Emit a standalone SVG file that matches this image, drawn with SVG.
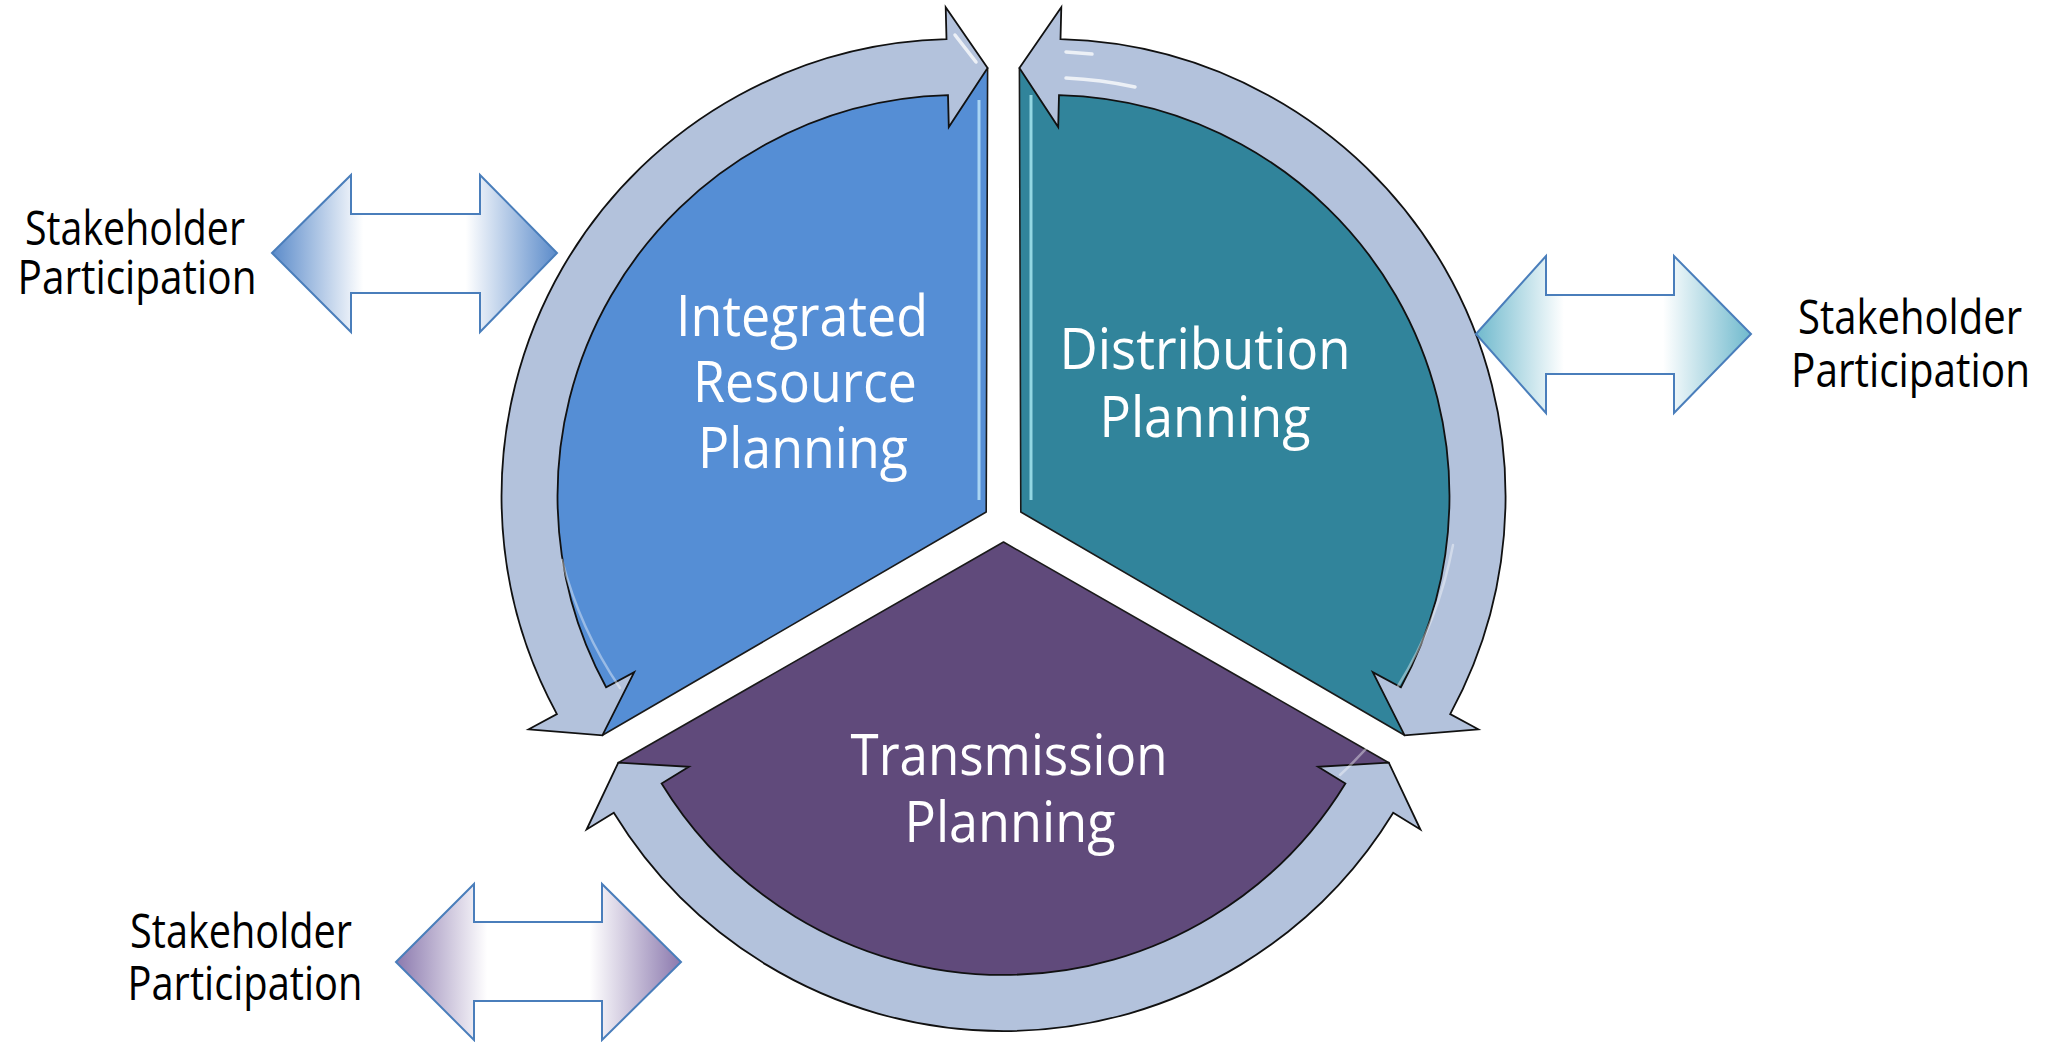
<svg xmlns="http://www.w3.org/2000/svg" width="2056" height="1042" viewBox="0 0 2056 1042">
<defs>
<style>
.sector{stroke:#1a1a1a;stroke-width:1.6;stroke-linejoin:round}
.band{fill:#B3C2DC;stroke:#111;stroke-width:1.8;stroke-linejoin:miter}
.gloss{fill:none;stroke:#ffffff;stroke-opacity:0.4;stroke-width:2.5;stroke-linecap:round}
.shine{fill:none;stroke:#ffffff;stroke-opacity:0.75;stroke-width:3.5;stroke-linecap:round}
.dbl{stroke:#4A7EBB;stroke-width:2;stroke-linejoin:miter}
.lbl{font-family:'Open Sans','Liberation Sans',sans-serif;font-size:47px;fill:#000;text-anchor:middle}
.lblr{font-family:'Open Sans','Liberation Sans',sans-serif;font-size:47px;fill:#000;text-anchor:end}
.inner{font-family:'Open Sans','Liberation Sans',sans-serif;font-size:56px;fill:#fff;text-anchor:middle}
</style>
<linearGradient id="gBlue" x1="0" y1="0" x2="1" y2="0">
<stop offset="0" stop-color="#5B8BCA"/><stop offset="0.32" stop-color="#FFFFFF"/><stop offset="0.68" stop-color="#FFFFFF"/><stop offset="1" stop-color="#5B8BCA"/>
</linearGradient>
<linearGradient id="gTeal" x1="0" y1="0" x2="1" y2="0">
<stop offset="0" stop-color="#6FB9CD"/><stop offset="0.32" stop-color="#FFFFFF"/><stop offset="0.68" stop-color="#FFFFFF"/><stop offset="1" stop-color="#6FB9CD"/>
</linearGradient>
<linearGradient id="gPurp" x1="0" y1="0" x2="1" y2="0">
<stop offset="0" stop-color="#8B79AE"/><stop offset="0.32" stop-color="#FFFFFF"/><stop offset="0.68" stop-color="#FFFFFF"/><stop offset="1" stop-color="#8B79AE"/>
</linearGradient>
</defs>
<rect width="2056" height="1042" fill="#ffffff"/>

<g id="node-irp">
<path class="sector" fill="#558ED5" d="M 986.2 512 L 987.6 68 A 429 429 0 0 0 602.4 735.3 Z"/>
<line x1="979" y1="100" x2="979" y2="500" stroke="#B9E2F8" stroke-width="3" stroke-opacity="0.85"/>
<text class="inner" x="802" y="336" textLength="252" lengthAdjust="spacingAndGlyphs">Integrated</text>
<text class="inner" x="805" y="402" textLength="224" lengthAdjust="spacingAndGlyphs">Resource</text>
<text class="inner" x="803" y="468" textLength="210" lengthAdjust="spacingAndGlyphs">Planning</text>
</g>

<g id="node-dist">
<path class="sector" fill="#31849B" d="M 1020.8 512 L 1019.4 68 A 429 429 0 0 1 1404.6 735.3 Z"/>
<line x1="1031" y1="95" x2="1031" y2="500" stroke="#A6E6F0" stroke-width="3" stroke-opacity="0.85"/>
<text class="inner" x="1205" y="369" textLength="291" lengthAdjust="spacingAndGlyphs">Distribution</text>
<text class="inner" x="1205" y="437" textLength="211" lengthAdjust="spacingAndGlyphs">Planning</text>
</g>

<g id="node-trans">
<path class="sector" fill="#604A7B" d="M 1003.5 542 L 618.3 762.7 A 429 429 0 0 0 1388.8 762.7 Z"/>
<text class="inner" x="1009" y="775" textLength="317" lengthAdjust="spacingAndGlyphs">Transmission</text>
<text class="inner" x="1010" y="842" textLength="211" lengthAdjust="spacingAndGlyphs">Planning</text>
</g>

<g id="node-stake-left">
<text class="lbl" x="135" y="245" textLength="220" lengthAdjust="spacingAndGlyphs">Stakeholder</text>
<text class="lbl" x="137" y="294" textLength="239" lengthAdjust="spacingAndGlyphs">Participation</text>
</g>
<g id="node-stake-right">
<text class="lblr" x="2022" y="334" textLength="224" lengthAdjust="spacingAndGlyphs">Stakeholder</text>
<text class="lblr" x="2030" y="387" textLength="239" lengthAdjust="spacingAndGlyphs">Participation</text>
</g>
<g id="node-stake-bottom">
<text class="lbl" x="241" y="948" textLength="222" lengthAdjust="spacingAndGlyphs">Stakeholder</text>
<text class="lbl" x="245" y="1000" textLength="235" lengthAdjust="spacingAndGlyphs">Participation</text>
</g>

<g id="connectors">
<path class="band" d="M 987.6 68 L 945.7 7.2 L 946.5 39.2 A 457 457 0 0 0 556.9 714.1 L 528.7 729.3 L 602.4 735.3 L 634.2 672.1 L 606.1 687.3 A 401 401 0 0 1 948 95.1 L 948.8 127.1 Z"/>
<path class="band" d="M 1019.4 68 L 1061.3 7.2 L 1060.5 39.2 A 457 457 0 0 1 1450.2 714.1 L 1478.3 729.3 L 1404.6 735.3 L 1372.8 672.1 L 1400.9 687.3 A 401 401 0 0 0 1059 95.1 L 1058.2 127.1 Z"/>
<path class="band" d="M 618.3 762.7 L 586.6 829.5 L 613.8 812.8 A 457 457 0 0 0 1393.2 812.8 L 1420.4 829.5 L 1388.8 762.7 L 1318.1 766.8 L 1345.4 783.5 A 401 401 0 0 1 661.6 783.5 L 688.9 766.8 Z"/>
<path class="gloss" d="M 562 560 A 412 412 0 0 0 620 688"/>
<path class="gloss" d="M 1453 545 A 412 412 0 0 1 1398 686"/>
<path class="gloss" d="M 1378 735 A 412 412 0 0 1 1340 775"/>
<path class="shine" d="M 1066 78 A 418 418 0 0 1 1135 87"/>
<path class="shine" d="M 1066 52 L 1092 54"/>
<path class="shine" d="M 955 35 L 976 62"/>
<path class="dbl" fill="url(#gBlue)" d="M 272 253 L 351 175 L 351 214 L 480 214 L 480 175 L 557 253 L 480 332 L 480 293 L 351 293 L 351 332 Z"/>
<path class="dbl" fill="url(#gTeal)" d="M 1476 334 L 1546 256 L 1546 295 L 1674 295 L 1674 256 L 1751 334 L 1674 413 L 1674 374 L 1546 374 L 1546 413 Z"/>
<path class="dbl" fill="url(#gPurp)" d="M 396 962 L 474 884 L 474 922 L 602 922 L 602 884 L 681 962 L 602 1040 L 602 1001 L 474 1001 L 474 1040 Z"/>
</g>
</svg>
